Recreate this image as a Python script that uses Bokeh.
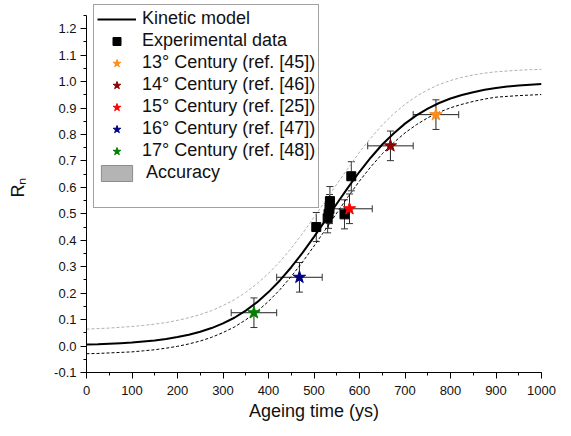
import numpy as np
from bokeh.plotting import figure
from bokeh.models import (ColumnDataSource, Whisker, TeeHead, Legend, LegendItem,
                          FixedTicker, PrintfTickFormatter, Range1d)
from bokeh.embed import file_html
from bokeh.resources import INLINE

# ---------------- data ----------------
time_grid = list(range(0, 1001, 25))
model_r = [0.006, 0.007, 0.009, 0.011, 0.013, 0.017, 0.021, 0.027, 0.034, 0.043,
           0.054, 0.068, 0.086, 0.107, 0.134, 0.166, 0.204, 0.248, 0.298, 0.353,
           0.413, 0.475, 0.538, 0.600, 0.659, 0.713, 0.762, 0.804, 0.841, 0.872,
           0.898, 0.919, 0.936, 0.949, 0.960, 0.969, 0.976, 0.981, 0.985, 0.988, 0.991]
upper_r = [0.064, 0.066, 0.068, 0.071, 0.074, 0.078, 0.083, 0.089, 0.097, 0.107,
           0.119, 0.134, 0.153, 0.175, 0.203, 0.236, 0.275, 0.319, 0.370, 0.426,
           0.487, 0.549, 0.612, 0.673, 0.733, 0.787, 0.836, 0.878, 0.914, 0.944,
           0.969, 0.989, 1.004, 1.016, 1.025, 1.032, 1.037, 1.040, 1.043, 1.045, 1.046]
lower_r = [-0.029, -0.028, -0.026, -0.024, -0.022, -0.018, -0.014, -0.008, -0.001, 0.008,
           0.019, 0.033, 0.051, 0.072, 0.099, 0.131, 0.169, 0.213, 0.263, 0.318,
           0.378, 0.440, 0.503, 0.565, 0.624, 0.678, 0.727, 0.769, 0.806, 0.837,
           0.863, 0.884, 0.901, 0.914, 0.925, 0.934, 0.941, 0.944, 0.947, 0.949, 0.951]

exp_t = [505, 530, 532, 534, 535, 567, 582]
exp_r = [0.450, 0.483, 0.500, 0.518, 0.548, 0.498, 0.642]
exp_rerr = [0.055, 0.055, 0.055, 0.055, 0.055, 0.055, 0.055]

century_labels = ["13° Century (ref. [45])", "14° Century (ref. [46])",
                  "15° Century (ref. [25])", "16° Century (ref. [47])",
                  "17° Century (ref. [48])"]
century_t = [768, 668, 578, 468, 368]
century_r = [0.875, 0.757, 0.519, 0.260, 0.126]
century_terr = [50, 50, 50, 50, 50]
century_rerr = [0.056, 0.056, 0.056, 0.056, 0.056]
century_colors = ["#ff8c1a", "#8b0000", "#ff0000", "#000080", "#008000"]

x_ticks = list(range(0, 1001, 100))
x_minor = list(range(0, 1001, 50))
y_ticks = [-0.1, 0.0, 0.1, 0.2, 0.3, 0.4, 0.5, 0.6, 0.7, 0.8, 0.9, 1.0, 1.1, 1.2]
y_minor = [-0.05, 0.05, 0.15, 0.25, 0.35, 0.45, 0.55, 0.65, 0.75, 0.85, 0.95,
           1.05, 1.15, 1.25]

FONT = "Liberation Sans"
NAN = float("nan")

# ---------------- figure ----------------
p = figure(width=571, height=436, x_range=Range1d(0, 1000), y_range=Range1d(-0.1, 1.299),
           output_backend="svg", toolbar_location=None,
           min_border_left=86, min_border_right=30, min_border_top=2, min_border_bottom=64)
p.xgrid.visible = False
p.ygrid.visible = False
p.outline_line_color = None
p.background_fill_color = "white"
p.border_fill_color = "white"

# curves
r_up = p.line(time_grid, upper_r, line_color="#b0b0b0", line_width=1, line_dash="3 2")
r_lo = p.line(time_grid, lower_r, line_color="black", line_width=1, line_dash="3 2")
r_model = p.line(time_grid, model_r, line_color="black", line_width=2)

# legend-only swatch for the accuracy band (NaN geometry: nothing drawn in the plot)
r_acc = p.quad(left=[NAN], right=[NAN], bottom=[NAN], top=[NAN],
               fill_color="#b4b4b4", line_color="#8c8c8c")
r_blank = p.scatter([NAN], [NAN], marker="square", fill_alpha=0, line_alpha=0)

# error bars
exp_src = ColumnDataSource(dict(
    x=exp_t, y=exp_r,
    lo=[r - e for r, e in zip(exp_r, exp_rerr)],
    hi=[r + e for r, e in zip(exp_r, exp_rerr)]))
cen_src = ColumnDataSource(dict(
    x=century_t, y=century_r,
    ylo=[r - e for r, e in zip(century_r, century_rerr)],
    yhi=[r + e for r, e in zip(century_r, century_rerr)],
    xlo=[t - e for t, e in zip(century_t, century_terr)],
    xhi=[t + e for t, e in zip(century_t, century_terr)]))

def head():
    return TeeHead(size=7, line_color="#333333", line_width=1)

p.add_layout(Whisker(source=exp_src, base="x", lower="lo", upper="hi", dimension="height",
                     line_color="#333333", line_width=1, lower_head=head(), upper_head=head(),
                     level="underlay"))
p.add_layout(Whisker(source=cen_src, base="x", lower="ylo", upper="yhi", dimension="height",
                     line_color="#222222", line_width=1, lower_head=head(), upper_head=head(),
                     level="underlay"))
p.add_layout(Whisker(source=cen_src, base="y", lower="xlo", upper="xhi", dimension="width",
                     line_color="#222222", line_width=1, lower_head=head(), upper_head=head(),
                     level="underlay"))

# markers
r_exp = p.scatter(exp_t, exp_r, marker="square", size=9, fill_color="black", line_color="black")
star_rs = []
for t, r, c in zip(century_t, century_r, century_colors):
    star_rs.append(p.scatter([t], [r], marker="star", size=13, fill_color=c, line_color=c))

# axes
for ax in (p.xaxis[0], p.yaxis[0]):
    ax.axis_line_color = "black"
    ax.major_tick_line_color = "black"
    ax.minor_tick_line_color = "black"
    ax.major_tick_in = 0
    ax.minor_tick_in = 0
    ax.major_tick_out = 6
    ax.minor_tick_out = 3
    ax.major_label_text_font = FONT
    ax.major_label_text_font_size = "13px"
    ax.major_label_text_color = "#111111"

p.xaxis.ticker = FixedTicker(ticks=x_ticks, minor_ticks=x_minor)
p.yaxis.ticker = FixedTicker(ticks=y_ticks, minor_ticks=y_minor)
p.yaxis.formatter = PrintfTickFormatter(format="%.1f")
p.yaxis.bounds = (-0.1, 1.25)
p.xaxis.major_label_standoff = 7
p.yaxis.major_label_standoff = 4

p.xaxis.axis_label = "Ageing time (ys)"
p.xaxis.axis_label_text_font = FONT
p.xaxis.axis_label_text_font_size = "18px"
p.xaxis.axis_label_text_font_style = "normal"
p.xaxis.axis_label_text_color = "#111111"
p.xaxis.axis_label_standoff = 3

p.yaxis.axis_label = "R\u2099"
p.yaxis.axis_label_text_font = FONT
p.yaxis.axis_label_text_font_size = "18px"
p.yaxis.axis_label_text_font_style = "normal"
p.yaxis.axis_label_text_color = "#111111"
p.yaxis.axis_label_standoff = 23

# legend
items = [LegendItem(label="Kinetic model", renderers=[r_model]),
         LegendItem(label="Experimental data", renderers=[r_exp])]
for lab, rr in zip(century_labels, star_rs):
    items.append(LegendItem(label=lab, renderers=[rr]))
items.append(LegendItem(label=" Accuracy", renderers=[r_acc]))
items.append(LegendItem(label=" ", renderers=[r_blank]))

legend = Legend(items=items, location=(7, 164), margin=0, padding=3, spacing=1,
                glyph_width=39, glyph_height=20, label_standoff=6,
                label_text_font=FONT, label_text_font_size="18px",
                label_text_color="#111111", border_line_color="#444444",
                border_line_width=1, background_fill_color="white",
                background_fill_alpha=1.0)
p.add_layout(legend)

open("out.html", "w").write(file_html(p, INLINE))
